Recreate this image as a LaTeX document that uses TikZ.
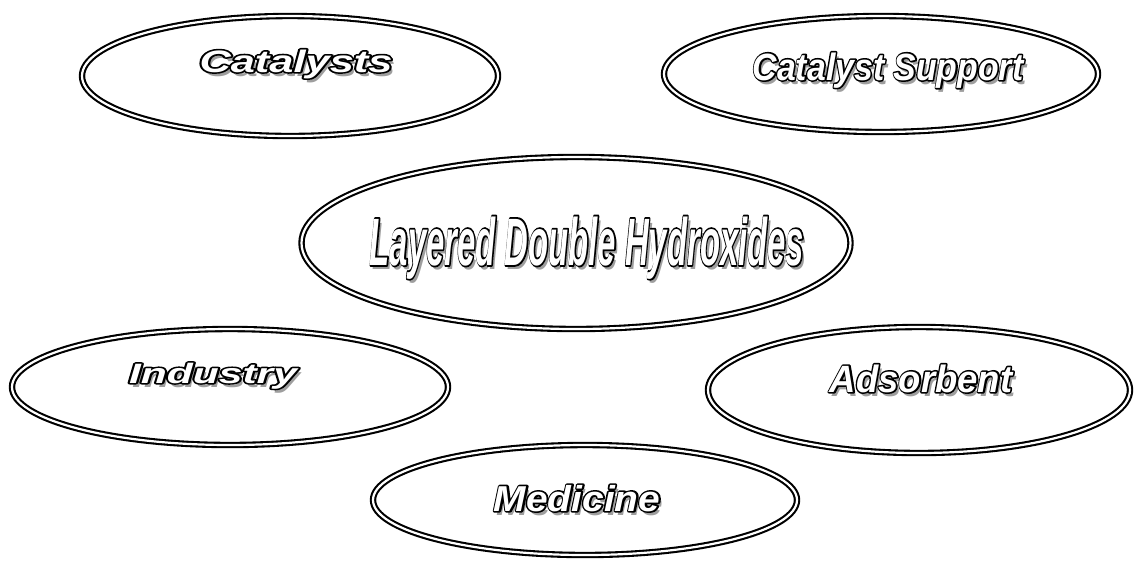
\documentclass[tikz,border=0pt]{standalone}
\usepackage{fontspec}
\usepackage{graphicx}
\setmainfont{Liberation Sans}
\usetikzlibrary{shapes.geometric}

% white letters edged in black, with a grey drop shadow
\newcommand\wordart[4]{%
  \def\wa{\scalebox{#1}[1]{\fontsize{#2}{#2}\selectfont\bfseries\itshape #4}}%
  \rlap{\hspace{3pt}\raisebox{-4pt}{\textcolor{black!38}{\wa}}}%
  \rlap{\special{pdf:literal direct 0 G #3 w 1 j 2 Tr}\wa\special{pdf:literal direct 0 Tr}}%
  \textcolor{white}{\wa}}

\tikzset{blob/.style={draw,ellipse,double,line width=2.1pt,double distance=2.2pt,inner sep=0pt}}
\tikzset{word/.style={inner sep=0pt,anchor=base}}

\begin{document}
\begin{tikzpicture}[x=1pt,y=-1pt]
	\useasboundingbox (0,0) rectangle (1137,566);
	% ellipses
	\node (cat)[blob,minimum width=416pt,minimum height=120pt] at (290,76) {};
	\node (sup)[blob,minimum width=434pt,minimum height=116pt] at (881,74) {};
	\node (ldh)[blob,minimum width=549pt,minimum height=172pt] at (576,243) {};
	\node (ind)[blob,minimum width=436pt,minimum height=116pt] at (230,387) {};
	\node (ads)[blob,minimum width=422pt,minimum height=126pt] at (919,390) {};
	\node (med)[blob,minimum width=424pt,minimum height=110pt] at (585,500) {};
	% labels
	\node (catT)[word] at (296,72) {\wordart{1.4}{31}{3.2}{Catalysts}};
	\node (supT)[word] at (888,80) {\wordart{0.89}{38}{3.2}{Catalyst Support}};
	\node (ldhT)[word] at (587,265) {\wordart{0.49}{67}{3.6}{Layered Double Hydroxides}};
	\node (indT)[word] at (213,383) {\wordart{1.52}{28}{3}{Industry}};
	\node (adsT)[word] at (921,392) {\wordart{0.96}{38}{3.2}{Adsorbent}};
	\node (medT)[word] at (577,511) {\wordart{1.08}{36}{3.2}{Medicine}};
\end{tikzpicture}
\end{document}
